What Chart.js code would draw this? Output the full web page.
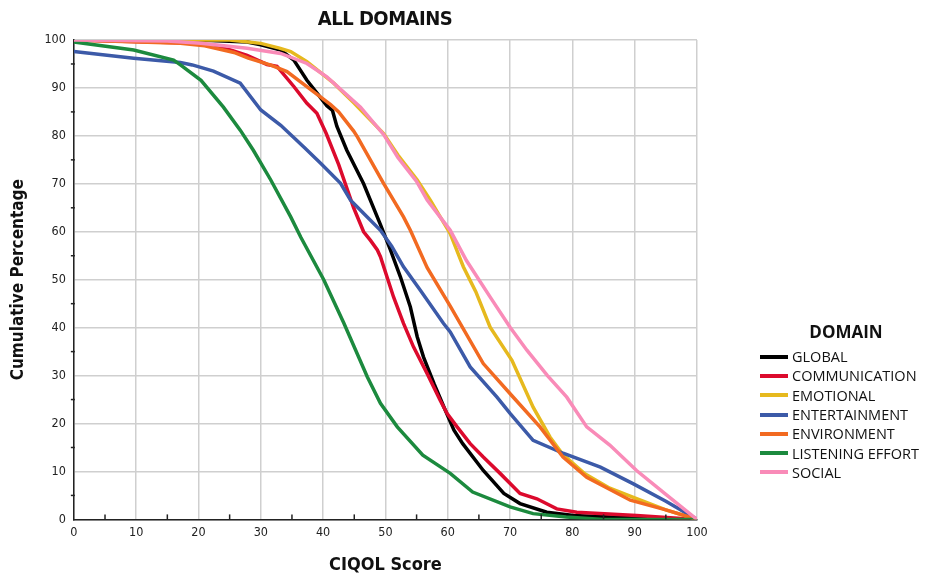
<!DOCTYPE html>
<html>
<head>
<meta charset="utf-8">
<script src="https://cdn.jsdelivr.net/npm/chart.js@4.4.1/dist/chart.umd.min.js"></script>
<style>
	html,body{margin:0;padding:0;background:#fff;}
	#wrap{position:relative;width:932px;height:585px;}
	#chartTitle{position:absolute;left:285px;width:200px;top:6px;text-align:center;font:bold 20px "DejaVu Sans Condensed","Liberation Sans Narrow","Open Sans",sans-serif;color:#111;letter-spacing:-0.5px;}
	#legend{position:absolute;left:760px;top:320px;font-family:"Open Sans",sans-serif;color:#111;}
	#legend .ttl{font-weight:bold;font-size:17px;text-align:center;width:172px;margin-bottom:4px;}
	#legend .row{display:flex;align-items:center;height:19.3px;font-size:14.5px;}
	#legend .sw{width:28px;height:4px;margin-right:4px;}
</style>
</head>
<body>
<div id="wrap">
	<canvas id="c" width="932" height="585"></canvas>
	<div id="chartTitle">ALL DOMAINS</div>
	<div id="legend"></div>
</div>
<script>
// series: [score, cumulative %]
const globalPts = [[0,100],[17,100],[22,99.9],[27.8,99.6],[30,99],[33.2,97.9],[35.3,95.8],[37.4,91.6],[40.6,86.3],[41.5,85.3],[42.2,82],[43.8,77],[46.5,70],[49.2,61.5],[50.8,56.2],[52.4,50.6],[54,44.3],[55.1,38.1],[56.1,33.9],[57.8,28.3],[59.4,23.4],[61,18.6],[62.4,15.8],[65.7,10.2],[69,5.4],[71.6,3.3],[75.9,1.5],[80.2,0.8],[90,0.3],[100,0]];
const communicationPts = [[0,100],[20,99.3],[25,98],[27.8,96.8],[31,94.9],[32.6,94.5],[35.3,90.3],[37.4,86.8],[39,84.7],[40.5,80.5],[42.5,74],[44.9,65],[46.5,60],[47.6,58.2],[48.7,56.2],[49.2,54.8],[51.3,46.4],[52.9,40.9],[54.5,36],[56.7,30.4],[58.8,24.8],[59.9,22.1],[61.5,19.3],[63.6,15.8],[65.7,13],[68.4,9.6],[71.6,5.4],[74.3,4.3],[77.5,2.2],[80.7,1.5],[90.3,0.8],[100,0]];
const emotionalPts = [[0,100],[25,100],[30,99.3],[33,98.3],[34.8,97.6],[37.4,95.5],[41.7,91],[45,86.8],[49.7,80.5],[52,76],[55.1,70.8],[57.2,66.6],[60.4,59.6],[62.5,52.7],[64.5,47.5],[66.8,40.1],[70.3,33.2],[73.7,23.4],[76.4,17.2],[78.5,13.5],[82,9.5],[86,6.5],[90,4.5],[95,2],[100,0]];
const entertainmentPts = [[0,97.6],[9.6,96.2],[17.1,95.3],[19,94.8],[22.4,93.5],[26.7,91],[30,85.4],[33.2,82.2],[36.9,77.7],[39.6,74.3],[42.8,70.1],[44.4,66.6],[46,64.5],[49.2,60.3],[51,57],[52.9,52.7],[55.6,47.8],[59.3,40.9],[60.4,39.1],[63.6,31.8],[67.9,25.5],[70,22.1],[73.7,16.5],[78.5,13.8],[84.5,10.9],[89.8,7.4],[95,3.8],[100,0]];
const environmentPts = [[0,100],[17.1,99.3],[21,98.8],[25.7,97.4],[28,96.2],[31.5,94.8],[34.2,93.4],[38.5,89.2],[41.2,86.5],[42.5,85],[44.9,81],[45.5,79.8],[49.7,70.1],[52.9,63.1],[54,60.3],[56.7,52.5],[60.4,44.5],[65.7,32.5],[70.3,25.8],[74.8,19.3],[78.5,13],[82.3,8.8],[89.3,4],[95,2],[100,0]];
const listeningPts = [[0,99.6],[9.6,97.9],[16,95.8],[17.1,94.8],[20.4,91.6],[24,86],[26.7,81.2],[28.8,77],[31.6,70.8],[34.8,63.1],[36.4,58.9],[40.1,50],[43.3,41],[47.1,29.7],[49.2,24.2],[51.9,19.3],[56,13.4],[60.4,9.6],[64,5.7],[70,2.6],[73.7,1.2],[79,0.5],[85,0],[100,0]];
const socialPts = [[0,100],[15,99.8],[20.4,99.3],[27.8,98.3],[33.2,97.2],[37.4,95.1],[40.6,92.3],[46,86],[49.7,80.3],[52,75.5],[55,70.5],[56.7,66.6],[60.4,60.3],[63,54],[67,46],[70,40.1],[72.7,35.3],[76,30],[79.1,25.5],[82.3,19.3],[86,15.5],[90.3,10.2],[95,5.2],[100,0]];

const domainNames = ['GLOBAL','COMMUNICATION','EMOTIONAL','ENTERTAINMENT','ENVIRONMENT','LISTENING EFFORT','SOCIAL'];
const domainColors = ['#000000','#dc0a2d','#e6b91e','#3c5aa8','#f26a21','#1c8a3e','#f98bb8'];
const domainSeries = [globalPts,communicationPts,emotionalPts,entertainmentPts,environmentPts,listeningPts,socialPts];
const axisTicks = [0,10,20,30,40,50,60,70,80,90,100];

const tickFont = {family:'"DejaVu Sans Condensed","Liberation Sans Narrow","Open Sans",sans-serif', size:12.5};
const boldFont = {family:'"DejaVu Sans Condensed","Liberation Sans Narrow","Open Sans",sans-serif', size:18, weight:'bold'};

// small minor ticks at the 5s, like the SPSS axis
const minorTicks = {
	id:'minorTicks',
	afterDraw(chart){
		const {ctx, scales:{x,y}, chartArea:a} = chart;
		ctx.save(); ctx.strokeStyle = '#222'; ctx.lineWidth = 1.5;
		for(let v=5; v<100; v+=10){
			const px = x.getPixelForValue(v);
			ctx.beginPath(); ctx.moveTo(px, a.bottom); ctx.lineTo(px, a.bottom-5); ctx.stroke();
			const py = y.getPixelForValue(v);
			ctx.beginPath(); ctx.moveTo(a.left-3, py); ctx.lineTo(a.left+1, py); ctx.stroke();
		}
		ctx.restore();
	}
};

const datasets = domainSeries.map((pts,i)=>({
	label: domainNames[i],
	data: pts.map(p=>({x:p[0], y:p[1]})),
	borderColor: domainColors[i],
	backgroundColor: domainColors[i],
	borderWidth: 3.5,
	pointRadius: 0,
	tension: 0,
	order: domainSeries.length - 1 - i
}));

new Chart(document.getElementById('c'), {
	type: 'line',
	data: { datasets },
	plugins: [minorTicks],
	options: {
		responsive: false,
		animation: false,
		layout: { padding: { left: 4, right: 235, top: 40, bottom: 9 } },
		plugins: { legend: { display: false }, tooltip: { enabled: false } },
		scales: {
			x: {
				type: 'linear', min: 0, max: 100,
				afterBuildTicks: s => { s.ticks = axisTicks.map(v=>({value:v})); },
				ticks: { font: tickFont, color: '#222', padding: 6, maxRotation: 0 },
				grid: { color: '#cfcfcf', lineWidth: 1.5, drawTicks: false },
				border: { color: '#222', width: 1.5 },
				title: { display: true, text: 'CIQOL Score', font: boldFont, color: '#111', padding: { top: 8, bottom: 0 } }
			},
			y: {
				type: 'linear', min: 0, max: 100,
				afterBuildTicks: s => { s.ticks = axisTicks.map(v=>({value:v})); },
				ticks: { font: tickFont, color: '#222', padding: 8 },
				grid: { color: '#cfcfcf', lineWidth: 1.5, drawTicks: false },
				border: { color: '#222', width: 1.5 },
				title: { display: true, text: 'Cumulative Percentage', font: {...boldFont, size: 17}, color: '#111', padding: { top: 4, bottom: 8 } }
			}
		}
	}
});

// legend on the right
const lg = document.getElementById('legend');
lg.innerHTML = '<div class="ttl">DOMAIN</div>';
domainNames.forEach((n,i)=>{
	const r = document.createElement('div'); r.className = 'row';
	r.innerHTML = `<div class="sw" style="background:${domainColors[i]}"></div><div>${n}</div>`;
	lg.appendChild(r);
});
</script>
</body>
</html>
